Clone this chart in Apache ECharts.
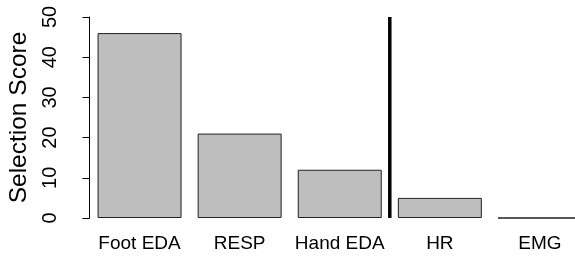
<!DOCTYPE html>
<html>
<head>
<meta charset="utf-8">
<script src="https://cdn.jsdelivr.net/npm/echarts@6.0.0/dist/echarts.min.js"></script>
<style>
  html, body { margin: 0; padding: 0; background: #fff; overflow: hidden; }
  /* canvas is a bit wider than the window: the last bar runs off the right edge as in the reference */
  #chart { width: 590px; height: 258px; }
</style>
</head>
<body>
<div id="chart"></div>
<script>
// data
const signals = ['Foot EDA', 'RESP', 'Hand EDA', 'HR', 'EMG'];
const scores = [46, 21, 12, 5, 0];
const yTicks = [0, 10, 20, 30, 40, 50];
// separator sits after the third bar (position on a 0..5 scale)
const cutoffPos = 3;

const chart = echarts.init(document.getElementById('chart'));

const font = 'Liberation Sans, Arial, sans-serif';

const option = {
    animation: false,
    grid: { left: 89.5, right: 0, top: 17, bottom: 40, outerBoundsMode: 'none' },
    xAxis: [{
        type: 'category',
        data: signals,
        axisLine: { show: false },
        axisTick: { show: false },
        axisLabel: { color: '#000', fontFamily: font, fontSize: 19, margin: 16, interval: 0 }
    }, {
        // helper scale for the separator line
        type: 'value',
        min: 0,
        max: signals.length,
        show: false
    }],
    yAxis: {
        type: 'value',
        min: yTicks[0],
        max: yTicks[yTicks.length - 1],
        interval: 10,
        offset: 10.5,
        name: 'Selection Score',
        nameLocation: 'middle',
        nameGap: 47,
        nameTextStyle: { color: '#000', fontFamily: font, fontSize: 24.5 },
        splitLine: { show: false },
        axisLine: { show: true, lineStyle: { color: '#000', width: 1 } },
        axisTick: { show: true, length: 7, lineStyle: { color: '#000' } },
        axisLabel: { color: '#000', fontFamily: font, fontSize: 20, rotate: 90, margin: 19 }
    },
    series: [{
        type: 'bar',
        data: scores,
        barWidth: 84,
        itemStyle: { color: '#bebebe', borderColor: '#222', borderWidth: 1 }
    }, {
        type: 'line',
        xAxisIndex: 1,
        data: [[cutoffPos, yTicks[0]], [cutoffPos, yTicks[yTicks.length - 1]]],
        symbol: 'none',
        lineStyle: { color: '#000', width: 3.5 }
    }]
};

chart.setOption(option);
</script>
</body>
</html>
